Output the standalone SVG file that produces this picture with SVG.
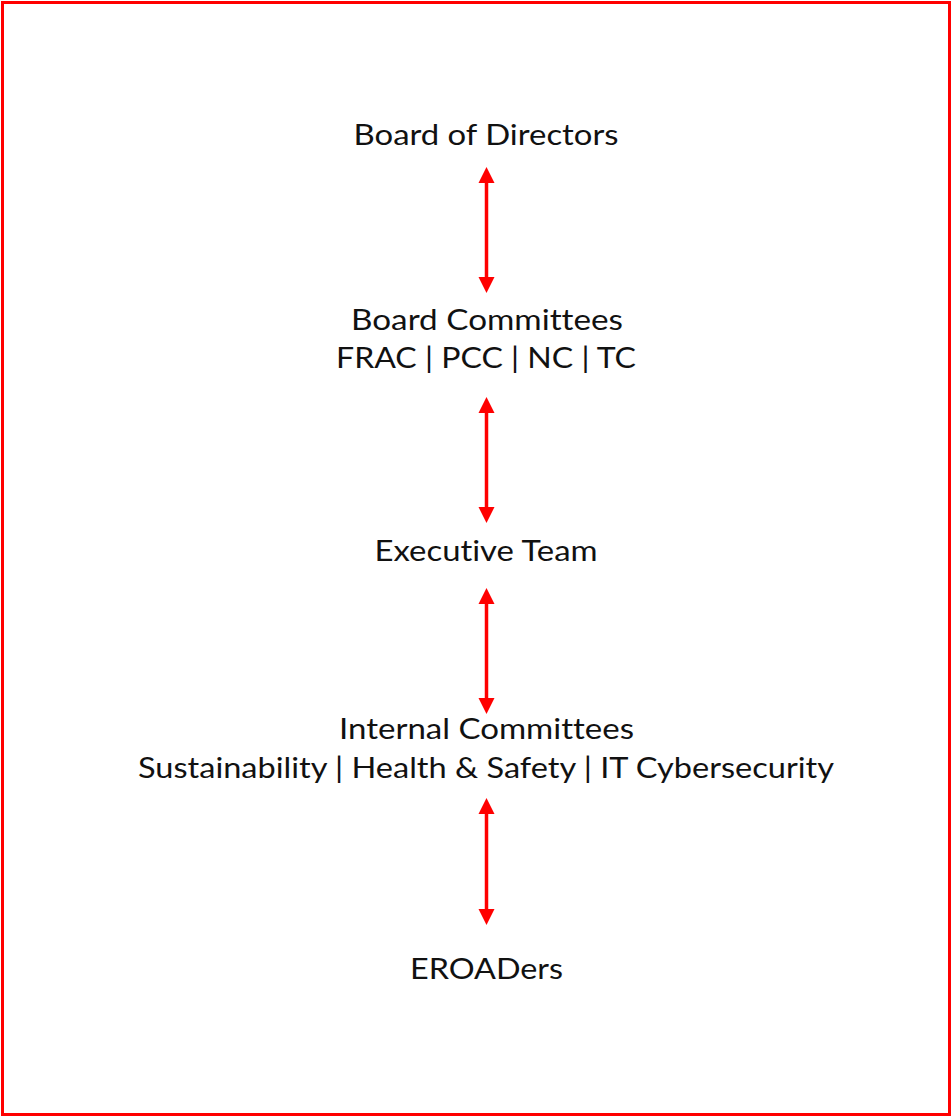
<svg xmlns="http://www.w3.org/2000/svg" width="952" height="1117" viewBox="0 0 952 1117">
<style>
.t{font-family:Lato,"Open Sans","Liberation Sans",sans-serif;font-size:28px;fill:#111;text-anchor:middle;font-variant-ligatures:none}
.c{stroke:#f00;stroke-width:3.5;fill:none}
.h{fill:#f00}
</style>
<rect x="2.5" y="2.5" width="947" height="1112" fill="#fff" stroke="#f00" stroke-width="3"/>
<g id="n1"><text class="t" x="486" y="145" textLength="265" lengthAdjust="spacingAndGlyphs">Board of Directors</text></g>
<g id="n2"><text class="t" x="487" y="330" textLength="272" lengthAdjust="spacingAndGlyphs">Board Committees</text><text class="t" x="486" y="368" textLength="300" lengthAdjust="spacingAndGlyphs">FRAC | PCC | NC | TC</text></g>
<g id="n3"><text class="t" x="486" y="561" textLength="223" lengthAdjust="spacingAndGlyphs">Executive Team</text></g>
<g id="n4"><text class="t" x="486.5" y="739" textLength="295" lengthAdjust="spacingAndGlyphs">Internal Committees</text><text class="t" x="486" y="778" textLength="696" lengthAdjust="spacingAndGlyphs">Sustainability | Health &amp; Safety | IT Cybersecurity</text></g>
<g id="n5"><text class="t" x="486.5" y="979" textLength="153" lengthAdjust="spacingAndGlyphs">EROADers</text></g>
<g id="connectors">
<path d="M486.5,175 L486.5,285" class="c"/>
<path d="M486.5,405 L486.5,515" class="c"/>
<path d="M486.5,596 L486.5,706" class="c"/>
<path d="M486.5,806 L486.5,917" class="c"/>
<path class="h" d="M478.5,183 L486.5,167 L494.5,183 Z"/><path class="h" d="M478.5,277 L486.5,293 L494.5,277 Z"/>
<path class="h" d="M478.5,413 L486.5,397 L494.5,413 Z"/><path class="h" d="M478.5,507 L486.5,523 L494.5,507 Z"/>
<path class="h" d="M478.5,604 L486.5,588 L494.5,604 Z"/><path class="h" d="M478.5,698 L486.5,714 L494.5,698 Z"/>
<path class="h" d="M478.5,814 L486.5,798 L494.5,814 Z"/><path class="h" d="M478.5,909 L486.5,925 L494.5,909 Z"/>
</g>
</svg>
